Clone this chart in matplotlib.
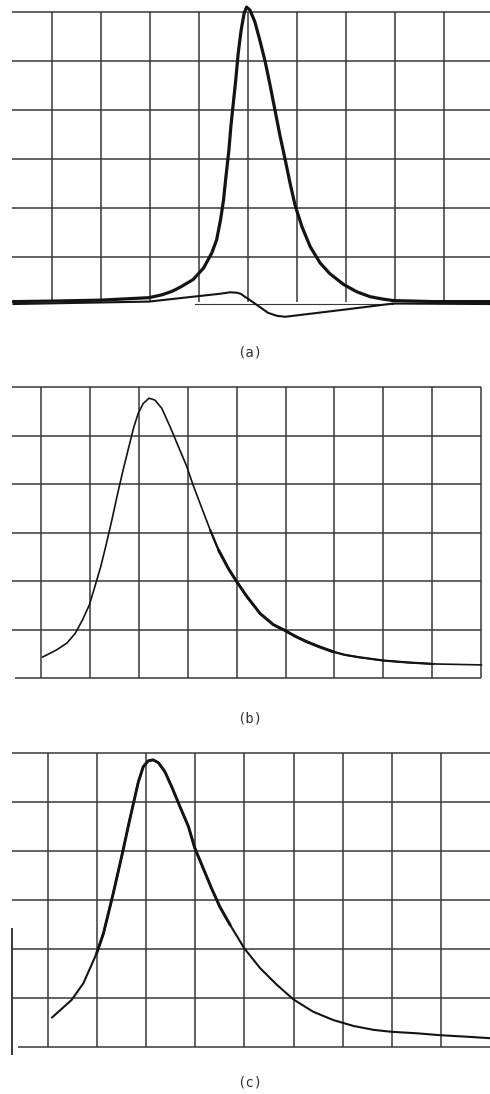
import matplotlib
matplotlib.use("Agg")
import matplotlib.pyplot as plt

W, H = 490, 1094

# ---- (a): absorption peak and dispersion trace ----
a_peak_x = [0.21, 1.00, 2.00, 2.98, 3.25, 3.45, 3.61, 3.88, 4.09, 4.26, 4.36, 4.44,
            4.50, 4.55, 4.61, 4.65, 4.70, 4.75, 4.80, 4.86, 4.92, 4.97, 5.04, 5.14,
            5.24, 5.35, 5.45, 5.55, 5.65, 5.76, 5.86, 5.96, 6.10, 6.27, 6.47, 6.67,
            6.95, 7.22, 7.49, 7.76, 7.97, 8.80, 9.94]
a_peak_y = [0.09, 0.10, 0.12, 0.17, 0.23, 0.30, 0.38, 0.54, 0.77, 1.08, 1.35, 1.76,
            2.16, 2.64, 3.18, 3.66, 4.14, 4.61, 5.16, 5.63, 5.97, 6.10, 6.04, 5.80,
            5.43, 4.99, 4.51, 4.00, 3.49, 2.98, 2.50, 2.06, 1.62, 1.21, 0.88, 0.66,
            0.44, 0.29, 0.19, 0.14, 0.11, 0.09, 0.09]
a_disp_x = [0.21, 2.98, 3.61, 4.43, 4.64, 4.78, 4.86, 4.92, 5.04, 5.24, 5.41, 5.59,
            5.76, 7.08, 7.96, 9.94]
a_disp_y = [0.04, 0.09, 0.16, 0.25, 0.28, 0.27, 0.245, 0.20, 0.12, -0.02, -0.14, -0.20,
            -0.22, -0.06, 0.05, 0.04]
a_base_x = [3.92, 7.96]
a_base_y = [0.04, 0.04]

# ---- (b) ----
b_x = [0.03, 0.32, 0.53, 0.70, 0.85, 0.99, 1.10, 1.22, 1.33, 1.45, 1.56, 1.67, 1.79,
       1.90, 1.99, 2.09, 2.21, 2.33, 2.47, 2.64, 2.81, 2.97, 3.11, 3.29, 3.46, 3.63,
       3.83, 4.00, 4.21, 4.48, 4.75, 4.97, 5.20, 5.43, 5.70, 5.98, 6.20, 6.49, 7.00,
       7.50, 8.02, 9.01]
b_y = [0.43, 0.58, 0.72, 0.92, 1.20, 1.51, 1.88, 2.29, 2.74, 3.26, 3.77, 4.25, 4.74,
       5.18, 5.46, 5.66, 5.77, 5.73, 5.56, 5.18, 4.77, 4.39, 3.98, 3.50, 3.05, 2.64,
       2.26, 1.99, 1.68, 1.33, 1.10, 0.99, 0.86, 0.75, 0.64, 0.54, 0.48, 0.43, 0.36,
       0.32, 0.29, 0.27]

# ---- (c) ----
c_x = [0.08, 0.48, 0.72, 0.99, 1.13, 1.23, 1.33, 1.43, 1.53, 1.64, 1.74, 1.84, 1.94,
       2.04, 2.14, 2.25, 2.38, 2.52, 2.69, 2.86, 2.99, 3.16, 3.33, 3.50, 3.71, 4.00,
       4.32, 4.66, 5.00, 5.40, 5.81, 6.22, 6.63, 7.00, 7.51, 8.00, 8.53, 9.00]
c_y = [0.60, 0.96, 1.30, 1.91, 2.32, 2.73, 3.14, 3.58, 4.02, 4.53, 4.97, 5.41, 5.72,
       5.84, 5.86, 5.80, 5.62, 5.31, 4.90, 4.50, 4.06, 3.65, 3.24, 2.86, 2.49, 2.01,
       1.61, 1.27, 0.97, 0.72, 0.55, 0.43, 0.35, 0.31, 0.28, 0.24, 0.21, 0.18]

labels = ["(a)", "(b)", "(c)"]

GRID = "#383838"
INK = "#141414"

fig = plt.figure(figsize=(W / 100, H / 100), dpi=100)
fig.patch.set_facecolor("white")


def make_panel(top, height, x0, xs, y0, ys):
    ax = fig.add_axes([0, 1 - (top + height) / H, 1, height / H])
    ax.set_xlim((0 - x0) / xs, (W - x0) / xs)
    ax.set_ylim((y0 - (top + height)) / ys, (y0 - top) / ys)
    ax.axis("off")
    return ax


def trace(ax, xs, ys, lw, bands=()):
    ax.plot(xs, ys, color=INK, lw=lw, solid_joinstyle="round", solid_capstyle="round")
    # heavier pen pressure over part of the trace
    for lo, hi, w in bands:
        sel = [(x, y) for x, y in zip(xs, ys) if lo <= x <= hi]
        ax.plot([p[0] for p in sel], [p[1] for p in sel], color=INK, lw=w,
                solid_joinstyle="round", solid_capstyle="round")


# panel (a)
ax = make_panel(0, 330, 3, 49.0, 306, 49.0)
ax.hlines([1, 2, 3, 4, 5, 6], 0.18, 9.94, color=GRID, lw=1.1)
ax.vlines(range(1, 10), 0.08, 6.0, color=GRID, lw=1.1)
ax.plot(a_base_x, a_base_y, color=GRID, lw=0.8)
trace(ax, a_disp_x, a_disp_y, 1.5)
trace(ax, a_peak_x, a_peak_y, 2.3)

# panel (b)
ax = make_panel(370, 320, 41, 48.9, 678, 48.5)
ax.hlines([1, 2, 3, 4, 5, 6], -0.59, 9.0, color=GRID, lw=1.1)
ax.hlines([0], -0.53, 9.0, color=GRID, lw=1.1)
ax.vlines(range(0, 10), 0, 6.0, color=GRID, lw=1.1)
trace(ax, b_x, b_y, 1.2, [(3.4, 8.1, 1.6), (3.6, 6.0, 2.1)])

# panel (c)
ax = make_panel(730, 340, 48, 49.1, 1047, 49.0)
ax.hlines([1, 2, 3, 4, 5, 6], -0.73, 9.0, color=GRID, lw=1.1)
ax.hlines([0], -0.61, 9.0, color=GRID, lw=1.1)
ax.vlines(range(0, 9), 0, 6.0, color=GRID, lw=1.1)
ax.vlines([-0.73], -0.16, 2.43, color=GRID, lw=1.4)
trace(ax, c_x, c_y, 1.5, [(0.9, 3.8, 2.1)])

# captions
for lab, ypx in zip(labels, [352, 718, 1082]):
    fig.text(250 / W, 1 - ypx / H, lab, ha="center", va="center",
             fontsize=10, family="DejaVu Sans Mono", color="#333333")

fig.savefig("out.png", dpi=100, facecolor="white")
